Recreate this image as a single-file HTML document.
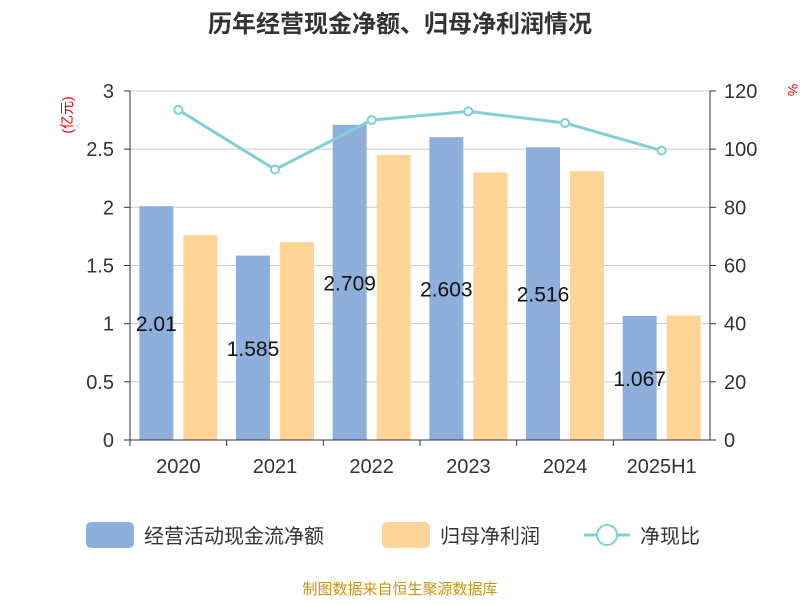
<!DOCTYPE html>
<html><head><meta charset="utf-8"><style>
body{margin:0;background:#fff;}
svg text{font-family:"Liberation Sans","Noto Sans CJK SC",sans-serif;}
</style></head><body>
<svg id="c" width="800" height="600" xmlns="http://www.w3.org/2000/svg">
<text x="400" y="32" text-anchor="middle" font-size="24" font-weight="bold" fill="#333">历年经营现金净额、归母净利润情况</text>
<text x="72" y="115" transform="rotate(-90 72 115)" text-anchor="middle" font-size="14" fill="#e00">(亿元)</text>
<text x="788" y="90" transform="rotate(90 788 90)" text-anchor="middle" font-size="14" fill="#e00">%</text>
<g id="grid"></g><g id="bars"></g><g id="line"></g><g id="axes"></g>
<g>
<rect x="86" y="522" width="48" height="26" rx="5" fill="#8eaedb"/>
<text x="144" y="543" font-size="20" fill="#333">经营活动现金流净额</text>
<rect x="382" y="522" width="48" height="26" rx="5" fill="#fed597"/>
<text x="440" y="543" font-size="20" fill="#333">归母净利润</text>
<line x1="584" y1="535" x2="630" y2="535" stroke="#80d0d6" stroke-width="3"/>
<circle cx="607" cy="535" r="10" fill="#fff" stroke="#80d0d6" stroke-width="2"/>
<text x="640" y="543" font-size="20" fill="#333">净现比</text>
</g>
<text x="400" y="594" text-anchor="middle" font-size="15" fill="#c8960f">制图数据来自恒生聚源数据库</text>
</svg>
<script>
const categories=["2020","2021","2022","2023","2024","2025H1"];
const cashFlow=[2.01,1.585,2.709,2.603,2.516,1.067];
const netProfit=[1.76,1.70,2.45,2.30,2.31,1.07];
const ratio=[113.5,93,110,113,109,99.5];
const leftTicks=[0,0.5,1,1.5,2,2.5,3];
const rightTicks=[0,20,40,60,80,100,120];
const ns="http://www.w3.org/2000/svg";
const X0=130,X1=710,Y0=440,Y1=91;
const bw=(X1-X0)/categories.length;
const yL=v=>Y0-(v/3)*(Y0-Y1);
const yR=v=>Y0-(v/120)*(Y0-Y1);
const cx=i=>X0+bw*(i+0.5);
function mk(t,a,p){const e=document.createElementNS(ns,t);for(const k in a)e.setAttribute(k,a[k]);p.appendChild(e);return e;}
const G=document.getElementById('grid'),B=document.getElementById('bars'),L=document.getElementById('line'),A=document.getElementById('axes');
leftTicks.forEach((t,i)=>{
 const g=mk('line',{x1:X0,x2:X1,y1:yL(t),y2:yL(t),stroke:'#ccc','stroke-width':1},G);
 
 
 const a=mk('text',{x:X0-16,y:yL(t)+7,'text-anchor':'end','font-size':20,fill:'#333'},A);a.textContent=t;
 
 
 mk('line',{x1:X0-6,x2:X0,y1:yL(t),y2:yL(t),stroke:'#333'},A);
 const r=mk('text',{x:X1+14,y:yR(rightTicks[i])+7,'font-size':20,fill:'#333'},A);r.textContent=rightTicks[i];
 
 
 mk('line',{x1:X1,x2:X1+6,y1:yR(rightTicks[i]),y2:yR(rightTicks[i]),stroke:'#333'},A);
});
mk('line',{x1:X0,x2:X0,y1:Y1,y2:Y0,stroke:'#333'},A);
mk('line',{x1:X1,x2:X1,y1:Y1,y2:Y0,stroke:'#333'},A);
mk('line',{x1:X0,x2:X1,y1:Y0,y2:Y0,stroke:'#333'},A);
categories.forEach((c,i)=>{
 mk('line',{x1:X0+bw*i,x2:X0+bw*i,y1:Y0,y2:Y0+6,stroke:'#333'},A);
 const t=mk('text',{x:cx(i),y:Y0+33,'text-anchor':'middle','font-size':20,fill:'#333'},A);t.textContent=c;
 
 
 const b=mk('rect',{x:cx(i)-39,y:yL(cashFlow[i]),width:34,height:Y0-yL(cashFlow[i]),fill:'#8eaedb'},B);
 
 
 const o=mk('rect',{x:cx(i)+5,y:yL(netProfit[i]),width:34,height:Y0-yL(netProfit[i]),fill:'#fed597'},B);
 
 
 const v=mk('text',{x:cx(i)-22,y:(yL(cashFlow[i])+Y0)/2+8,'text-anchor':'middle','font-size':21,fill:'#111'},B);v.textContent=cashFlow[i];
 
 
});
mk('line',{x1:X1+6,x2:X1+6,y1:Y0,y2:Y0,stroke:'#333'},A);
const pl=mk('polyline',{points:ratio.map((v,i)=>cx(i)+','+yR(v)).join(' '),fill:'none',stroke:'#80d0d6','stroke-width':3},L);


ratio.forEach((v,i)=>{
 const p=mk('circle',{cx:cx(i),cy:yR(v),r:4,fill:'#fff',stroke:'#80d0d6','stroke-width':2},L);
 
 
});
</script>
</body></html>
